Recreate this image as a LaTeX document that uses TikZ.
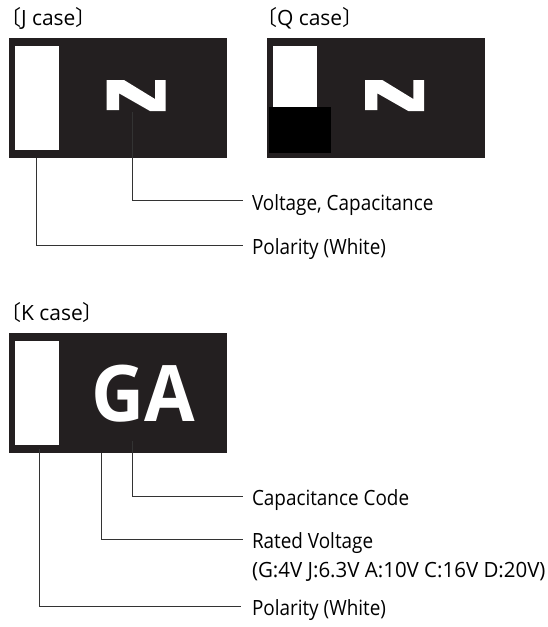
\documentclass[tikz,border=0pt]{standalone}
\usepackage{fontspec}
\setmainfont{Open Sans}[FakeStretch=0.9]
\newfontfamily\widef{Open Sans}[FakeStretch=0.975]
\newfontfamily\headf{Open Sans}
\newfontfamily\cjk{Noto Sans CJK KR}
\newfontfamily\bigf{Open Sans}[FakeStretch=0.94]
\definecolor{body}{HTML}{231F20}
\definecolor{lead}{HTML}{333333}
\newcommand{\lb}{{\cjk 〔}}
\newcommand{\rb}{{\cjk 〕}}
\tikzset{
  rectat/.style={draw=none,inner sep=0pt,outer sep=0pt,anchor=north west},
  bodybox/.style={rectat,fill=body,minimum width=218pt,minimum height=120pt},
  whitebox/.style={rectat,fill=white,minimum width=44pt,minimum height=104pt},
  lbl/.style={inner sep=0pt,outer sep=0pt,anchor=base west,font=\fontsize{21pt}{25pt}\selectfont,text=black},
  head/.style={inner sep=0pt,outer sep=0pt,anchor=base west,font=\headf\fontsize{21pt}{25pt}\selectfont,text=black},
  leader/.style={draw=lead,line width=1pt},
  zee/.style={fill=white,draw=none}
}
\begin{document}
\begin{tikzpicture}[x=1pt,y=-1pt]
\useasboundingbox (0,0) rectangle (547,627);
% J case
\node[head] (jt) at (0,25) {\lb J case\rb};
\node[bodybox] (jb) at (9,38) {};
\node[whitebox] (jw) at (15,46) {};
\fill[zee] (106.7,80)--(124,80)--(155,99)--(155,80)--(165.7,80)--(165.7,111)--(150,111)--(119,93.3)--(119,110)--(106.7,110)--cycle;
% Q case
\node[head] (qt) at (256,25) {\lb Q case\rb};
\node[bodybox] (qb) at (267,38) {};
\node[rectat,fill=white,minimum width=44pt,minimum height=62pt] (qw) at (273,46) {};
\node[rectat,fill=black,minimum width=62pt,minimum height=46pt] (qk) at (269,107) {};
\fill[zee] (365,80)--(382.3,80)--(413.3,99)--(413.3,80)--(424,80)--(424,111)--(408.3,111)--(377.3,93.3)--(377.3,110)--(365,110)--cycle;
% J labels
\node[lbl] (jv) at (252,210) {Voltage, Capacitance};
\node[lbl] (jp) at (252,254) {Polarity (White)};
\coordinate (ja) at (132,112);
\coordinate (jc) at (36.5,158);
\coordinate (jvl) at (243,200.5);
\coordinate (jpl) at (243,245);
\draw[leader] (ja) |- (jvl);
\draw[leader] (jc) |- (jpl);
% K case
\node[head] (kt) at (0,320) {\lb K case\rb};
\node[bodybox] (kb) at (9,333) {};
\node[whitebox] (kw) at (15,341) {};
\node[inner sep=0pt,outer sep=0pt,anchor=base west,text=white,font=\bigf\bfseries\fontsize{78pt}{78pt}\selectfont] (ga) at (91,421) {GA};
\node[lbl] (kc) at (252,505) {Capacitance Code};
\node[lbl] (kr) at (252,548) {Rated Voltage};
\node[lbl,font=\widef\fontsize{21pt}{25pt}\selectfont] (kr2) at (252,577) {(G:4V J:6.3V A:10V C:16V D:20V)};
\node[lbl] (kp) at (252,615) {Polarity (White)};
\coordinate (ka) at (132,441);
\coordinate (kd) at (101,453);
\coordinate (ke) at (39.5,449);
\coordinate (kcl) at (243,496);
\coordinate (krl) at (243,539);
\coordinate (kpl) at (241,606);
\draw[leader] (ka) |- (kcl);
\draw[leader] (kd) |- (krl);
\draw[leader] (ke) |- (kpl);
\end{tikzpicture}
\end{document}
